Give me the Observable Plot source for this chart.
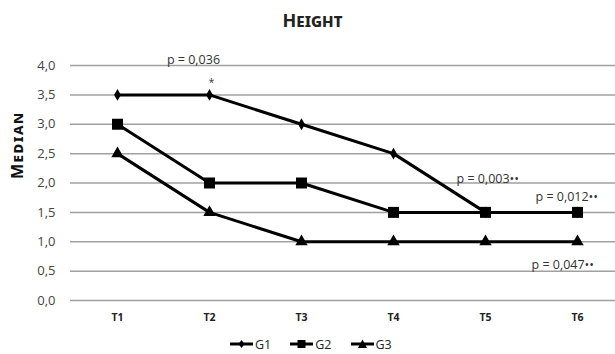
<!DOCTYPE html>
<html>
<head>
<meta charset="utf-8">
<script src="https://cdn.jsdelivr.net/npm/d3@7"></script>
<script src="https://cdn.jsdelivr.net/npm/@observablehq/plot@0.6"></script>
<style>
  body { margin: 0; background: #fff; font-family: "Open Sans", sans-serif; }
  #wrap { width: 615px; height: 354px; position: relative; overflow: hidden; }
  #title { height: 34px; line-height: 40px; text-align: center; padding-left: 10px; box-sizing: border-box;
           font-family: "Noto Sans", sans-serif; font-weight: bold; font-variant: small-caps; font-size: 18px; color: #222; }
  #legend { height: 24px; box-sizing: border-box; padding-top: 4px; display: flex; align-items: center; padding-left: 228px; font-size: 12.5px; color: #222; }
  #legend .item { display: flex; align-items: center; margin-right: 17px; }
  #legend svg { margin-right: 1px; }
</style>
</head>
<body>
<div id="wrap">
  <div id="title">Height</div>
  <div id="chart"></div>
  <div id="legend"></div>
</div>
<script>
const times = ["T1", "T2", "T3", "T4", "T5", "T6"];
const g1 = [3.5, 3.5, 3.0, 2.5, 1.5, 1.5];
const g2 = [3.0, 2.0, 2.0, 1.5, 1.5, 1.5];
const g3 = [2.5, 1.5, 1.0, 1.0, 1.0, 1.0];
const groups = ["G1", "G2", "G3"];
const yTicks = [0, 0.5, 1, 1.5, 2, 2.5, 3, 3.5, 4];

const annLabels = ["p = 0,036", "*", "p = 0,003••", "p = 0,012••", "p = 0,047••"];
const annTimes = ["T2", "T2", "T5", "T6", "T6"];
const annValues = [4.0, 3.5, 2.0, 1.5, 1.0];

const series = [g1, g2, g3];
const data = [];
groups.forEach((g, gi) => times.forEach((t, ti) => data.push({group: g, time: t, value: series[gi][ti]})));
const ann = annLabels.map((l, i) => ({label: l, time: annTimes[i], value: annValues[i]}));

const annStyle = [
  {dx: -16, dy: -6, textAnchor: "middle", fontSize: 12.5},
  {dx: 2, dy: -12, textAnchor: "middle", fontSize: 10},
  {dx: -29, dy: -4, textAnchor: "start", fontSize: 12.5},
  {dx: -42, dy: -15, textAnchor: "start", fontSize: 12.5},
  {dx: -46, dy: 23, textAnchor: "start", fontSize: 12.5}
];

const fmt = d => d.toFixed(1).replace(".", ",");
const sym = {G1: ["diamond", 3.6], G2: ["square", 6.2], G3: ["triangle", 4.6]};

const plot = Plot.plot({
  width: 615,
  height: 296,
  marginTop: 31,
  marginBottom: 30,
  marginLeft: 70,
  marginRight: 0,
  style: {fontFamily: "Open Sans, sans-serif", background: "#fff"},
  x: {type: "point", domain: times, range: [115, 578], padding: 0, axis: null},
  y: {domain: [0, 4], axis: null},
  marks: [
    Plot.ruleY(yTicks, {stroke: "#a0a0a0", strokeWidth: 1.5}),
    Plot.axisY(yTicks, {tickSize: 0, tickPadding: 15, tickFormat: fmt, fontSize: 13, fill: "#444", label: null}),
    Plot.axisX(times, {tickSize: 0, tickPadding: 13, fontSize: 10.5, fontWeight: "bold", fill: "#222", label: null}),
    Plot.text(["Median"], {frameAnchor: "left", dx: -53, dy: -4, rotate: -90, fontSize: 16, fontWeight: "bold",
      fontVariant: "small-caps", fontFamily: "Noto Sans, sans-serif", fill: "#111",
      render: (i, s, v, d, c, next) => { const g = next(i, s, v, d, c); g.setAttribute("letter-spacing", "1.5"); return g; }}),
    Plot.line(data, {x: "time", y: "value", z: "group", stroke: "#000", strokeWidth: 3}),
    ...groups.map(g => Plot.dot(data.filter(d => d.group === g),
      {x: "time", y: "value", symbol: () => sym[g][0], r: sym[g][1], fill: "#000", stroke: "none"})),
    ...ann.map((a, i) => Plot.text([a], {x: "time", y: "value", text: "label", fill: "#333",
      dx: annStyle[i].dx, dy: annStyle[i].dy, textAnchor: annStyle[i].textAnchor, fontSize: annStyle[i].fontSize}))
  ]
});
document.getElementById("chart").appendChild(plot);

// legend
const legend = document.getElementById("legend");
groups.forEach(g => {
  const item = document.createElement("div");
  item.className = "item";
  const s = d3.create("svg").attr("width", 26).attr("height", 12);
  s.append("line").attr("x1", 2).attr("x2", 25).attr("y1", 6).attr("y2", 6).attr("stroke", "#000").attr("stroke-width", 3);
  s.append("path").attr("d", g === "G1" ? "M13.5,2 L16.5,6 L13.5,10 L10.5,6 Z" : g === "G2" ? "M9.5,2 H17.5 V10 H9.5 Z" : "M13.5,1.5 L18,10 L9,10 Z").attr("fill", "#000");
  item.appendChild(s.node());
  const t = document.createElement("span");
  t.textContent = g;
  item.appendChild(t);
  legend.appendChild(item);
});
</script>
</body>
</html>
